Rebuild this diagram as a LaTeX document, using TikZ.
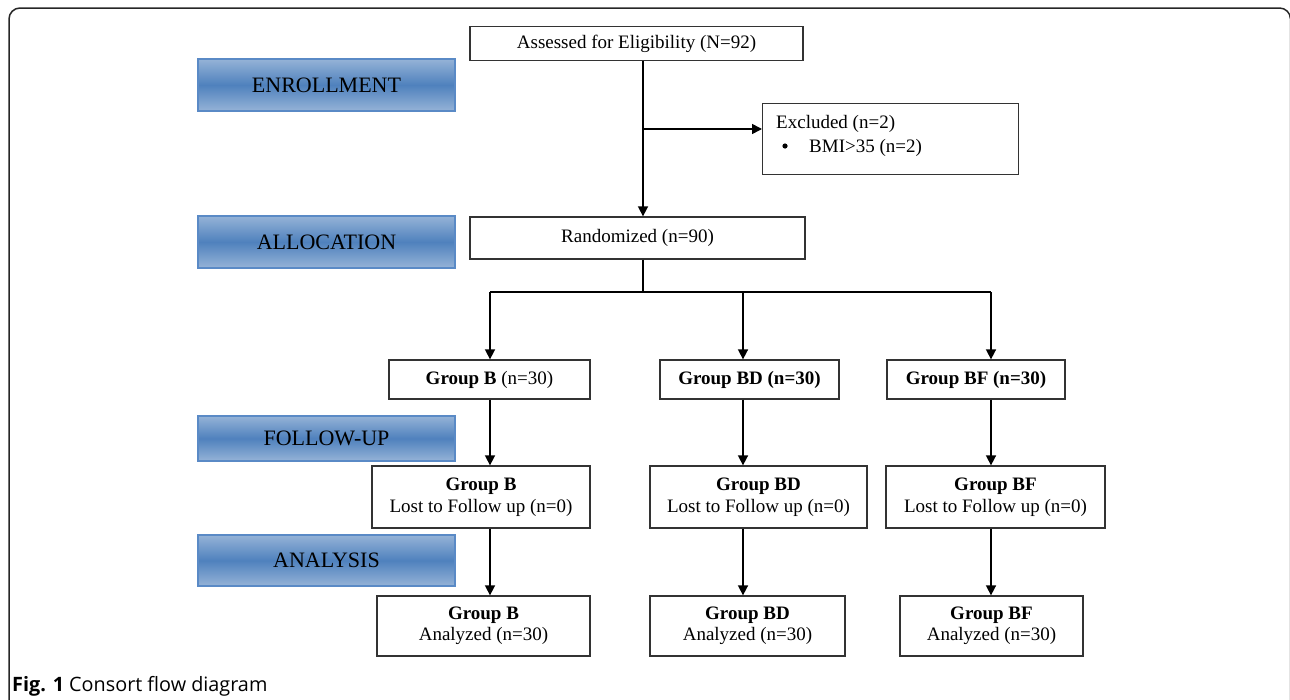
\documentclass[tikz,border=0pt]{standalone}
\usepackage{fontspec}
\setmainfont{Liberation Serif}
\newfontfamily\capfont{Open Sans}
\usetikzlibrary{arrows.meta,calc}
\definecolor{bluedark}{HTML}{4F81BD}
\definecolor{bluelight}{HTML}{95B3D7}
\definecolor{blueedge}{HTML}{5A8AC6}
\begin{document}
\begin{tikzpicture}[x=1pt,y=-1pt,
  box/.style={draw=black!80, line width=1.3pt, fill=white, inner sep=0pt, align=center,
    font=\fontsize{19}{21.5}\selectfont},
  txt/.style={inner sep=0pt, anchor=base west, font=\fontsize{19}{21.5}\selectfont},
  phase/.style={draw=blueedge, line width=1.2pt, inner sep=0pt,
    top color=bluelight, bottom color=bluelight, middle color=bluedark,
    minimum width=257pt, font=\fontsize{22}{26}\selectfont},
  flow/.style={line width=1.6pt, black},
  arr/.style={flow, -{Triangle[length=10pt,width=10pt]}}
]
\useasboundingbox (0,0) rectangle (1290,699);
\clip (0,0) rectangle (1290,699);
% frame
\draw[line width=1.5pt, black!85, rounded corners=11pt] (9,8) rectangle (1290.5,720);

% phase labels
\node[phase, minimum height=52pt] (enr) at (326.5,85) {ENROLLMENT};
\node[phase, minimum height=52pt] (alloc) at (326.5,242) {ALLOCATION};
\node[phase, minimum height=45pt] (fu) at (326.5,438.5) {FOLLOW-UP};
\node[phase, minimum height=51pt] (ana) at (326.5,560.5) {ANALYSIS};

% boxes
\node[box, minimum width=333pt, minimum height=34pt] (assess) at (636.5,43.5) {Assessed for Eligibility (N=92)};
\node[box, minimum width=256pt, minimum height=71pt, anchor=north west] (excl) at (762,103) {};
\node[txt] (exclt) at (776,128) {Excluded (n=2)};
\node[txt] (bmit) at (809,152) {BMI>35 (n=2)};
\fill (785,146) circle (2.6pt);
\node[box, minimum width=335pt, minimum height=42pt] (rand) at (637.5,238) {Randomized (n=90)};

\node[box, minimum width=201pt, minimum height=39pt] (gB) at (489.5,379.5) {\textbf{Group B} (n=30)};
\node[box, minimum width=179pt, minimum height=39pt] (gBD) at (749.5,379.5) {\textbf{Group BD (n=30)}};
\node[box, minimum width=178pt, minimum height=39pt] (gBF) at (976,379.5) {\textbf{Group BF (n=30)}};

\node[box, minimum width=218pt, minimum height=62pt] (fB) at (481,497) {\textbf{Group B}\\Lost to Follow up (n=0)};
\node[box, minimum width=217pt, minimum height=62pt] (fBD) at (758.5,497) {\textbf{Group BD}\\Lost to Follow up (n=0)};
\node[box, minimum width=219pt, minimum height=62pt] (fBF) at (995.5,497) {\textbf{Group BF}\\Lost to Follow up (n=0)};

\node[box, minimum width=213pt, minimum height=60pt] (aB) at (483.5,626) {\textbf{Group B}\\Analyzed (n=30)};
\node[box, minimum width=195pt, minimum height=60pt] (aBD) at (747.5,626) {\textbf{Group BD}\\Analyzed (n=30)};
\node[box, minimum width=183pt, minimum height=60pt] (aBF) at (991.5,626) {\textbf{Group BF}\\Analyzed (n=30)};

% connectors
\coordinate (j1) at (643,129);
\coordinate (split) at (643,292);
\coordinate (cB) at (490,292);
\coordinate (cBD) at (743,292);
\coordinate (cBF) at (991,292);
\draw[arr] (assess.south -| j1) -- (rand.north -| j1);
\draw[arr] (j1) -- (j1 -| excl.west);
\draw[flow] (rand.south -| split) -- (split);
\draw[flow] (cB) -- (cBF);
\draw[arr] (cB) -- (cB |- gB.north);
\draw[arr] (cBD) -- (cBD |- gBD.north);
\draw[arr] (cBF) -- (cBF |- gBF.north);
\draw[arr] (gB.south -| cB) -- (fB.north -| cB);
\draw[arr] (gBD.south -| cBD) -- (fBD.north -| cBD);
\draw[arr] (gBF.south -| cBF) -- (fBF.north -| cBF);
\draw[arr] (fB.south -| cB) -- (aB.north -| cB);
\draw[arr] (fBD.south -| cBD) -- (aBD.north -| cBD);
\draw[arr] (fBF.south -| cBF) -- (aBF.north -| cBF);

% caption
\node[anchor=base west, font=\capfont\fontsize{19.8}{22}\selectfont, inner sep=0pt] (cap) at (12,691)
  {\textbf{Fig. 1} Consort flow diagram};
\end{tikzpicture}
\end{document}
